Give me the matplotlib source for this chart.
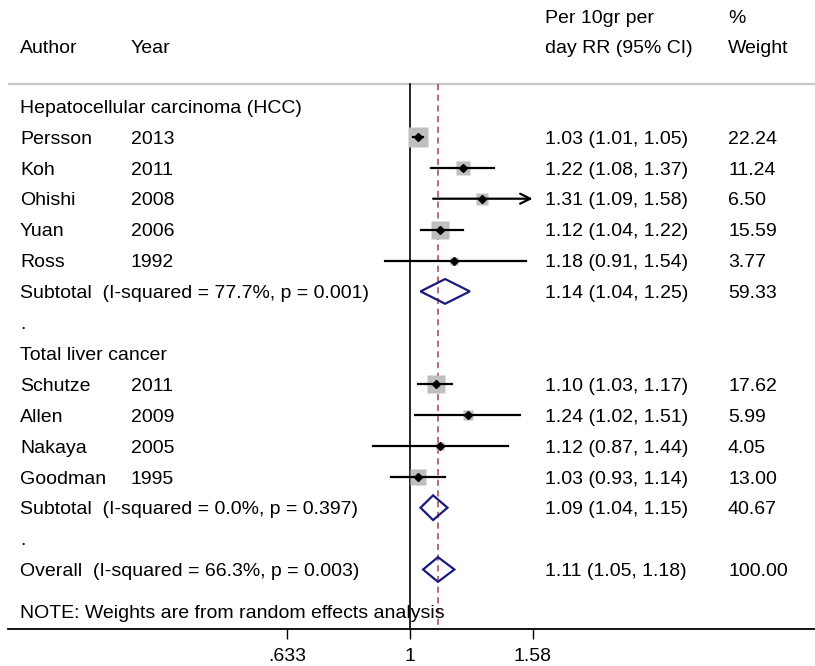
import numpy as np
import matplotlib
matplotlib.use("Agg")
import matplotlib.pyplot as plt
from matplotlib import transforms

plt.rcParams.update({"font.family": ["Liberation Sans", "DejaVu Sans"], "font.size": 14})

# ---- data ----
hcc_authors = ["Persson", "Koh", "Ohishi", "Yuan", "Ross"]
hcc_years = [2013, 2011, 2008, 2006, 1992]
hcc_rr = [1.03, 1.22, 1.31, 1.12, 1.18]
hcc_lo = [1.01, 1.08, 1.09, 1.04, 0.91]
hcc_hi = [1.05, 1.37, 1.58, 1.22, 1.54]
hcc_w = [22.24, 11.24, 6.50, 15.59, 3.77]
hcc_sub = (1.14, 1.04, 1.25, 59.33)
hcc_het = "Subtotal  (I-squared = 77.7%, p = 0.001)"

liv_authors = ["Schutze", "Allen", "Nakaya", "Goodman"]
liv_years = [2011, 2009, 2005, 1995]
liv_rr = [1.10, 1.24, 1.12, 1.03]
liv_lo = [1.03, 1.02, 0.87, 0.93]
liv_hi = [1.17, 1.51, 1.44, 1.14]
liv_w = [17.62, 5.99, 4.05, 13.00]
liv_sub = (1.09, 1.04, 1.15, 40.67)
liv_het = "Subtotal  (I-squared = 0.0%, p = 0.397)"

overall = (1.11, 1.05, 1.18, 100.00)
overall_het = "Overall  (I-squared = 66.3%, p = 0.003)"

xticks = [0.633, 1, 1.58]
xticklabels = [".633", "1", "1.58"]

# ---- figure ----
W, H = 815, 666
fig = plt.figure(figsize=(W / 100, H / 100), dpi=100)
ax = fig.add_axes([8 / W, (H - 629) / H, (W - 8) / W, 629 / H])
ax.set_xscale("log")
k = 268.1
ax.set_xlim(np.exp((8 - 410) / k), np.exp((W - 410) / k))
row_h, row0 = 30.9, 106
ax.set_ylim((629 - row0) / row_h, (0 - row0) / row_h)
for s in ["top", "left", "right"]:
    ax.spines[s].set_visible(False)
ax.spines["bottom"].set_linewidth(1.3)
ax.set_yticks([])
ax.set_xticks(xticks)
ax.set_xticklabels(xticklabels)
ax.xaxis.set_minor_locator(matplotlib.ticker.NullLocator())
ax.tick_params(axis="x", direction="out", length=7, width=1, pad=7, labelsize=14)

tx = transforms.blended_transform_factory(fig.transFigure, ax.transData)
XA, XY, XRR, XW = 20 / W, 131 / W, 545 / W, 728 / W
DY = 2.2 / row_h  # small downward nudge so text sits on the row centre


def label(x, row, s):
    ax.text(x, row + DY, s, transform=tx, va="center")


top_row = (84 - row0) / row_h
bot_row = (629 - row0) / row_h
ax.plot([1, 1], [top_row, bot_row], color="black", lw=1.2, zorder=2)
ax.plot([overall[0]] * 2, [top_row, bot_row], color="#a8434f", lw=1.1,
        ls=(0, (4, 3)), zorder=2)
ax.axhline(top_row, color="#c8c8c8", lw=1.6, zorder=1)

# headers
hrow1 = (16 - row0) / row_h
hrow2 = (46 - row0) / row_h
label(XA, hrow2, "Author")
label(XY, hrow2, "Year")
label(XRR, hrow1, "Per 10gr per")
label(XRR, hrow2, "day RR (95% CI)")
label(XW, hrow1, "%")
label(XW, hrow2, "Weight")

xmin_clip, xmax_clip = xticks[0], xticks[-1]


def study(row, author, year, rr, lo, hi, w):
    ms = 3.15 * np.sqrt(w)
    ax.plot(rr, row, marker="s", ms=ms, color="#bfbfbf", mec="none", zorder=3)
    lo_c, hi_c = max(lo, xmin_clip), min(hi, xmax_clip)
    if hi >= xmax_clip:
        ax.annotate("", xy=(hi_c, row), xytext=(lo_c, row),
                    arrowprops=dict(arrowstyle="->", lw=1.6, color="black",
                                    mutation_scale=18, shrinkA=0, shrinkB=0),
                    zorder=4)
    else:
        ax.plot([lo_c, hi_c], [row, row], color="black", lw=1.6, zorder=4)
    ax.plot(rr, row, marker="D", ms=4, color="black", zorder=5)
    label(XA, row, author)
    label(XY, row, str(year))
    label(XRR, row, f"{rr:.2f} ({lo:.2f}, {hi:.2f})")
    label(XW, row, f"{w:.2f}")


def pooled(row, text, est):
    rr, lo, hi, w = est
    hh = 0.4
    ax.fill([lo, rr, hi, rr, lo], [row, row - hh, row, row + hh, row],
            facecolor="none", edgecolor="#1a1a7e", lw=1.6, zorder=5)
    label(XA, row, text)
    label(XRR, row, f"{rr:.2f} ({lo:.2f}, {hi:.2f})")
    label(XW, row, f"{w:.2f}")


row = 0
label(XA, row, "Hepatocellular carcinoma (HCC)")
for i in range(len(hcc_authors)):
    row += 1
    study(row, hcc_authors[i], hcc_years[i], hcc_rr[i], hcc_lo[i], hcc_hi[i], hcc_w[i])
row += 1
pooled(row, hcc_het, hcc_sub)
row += 1
label(XA, row, ".")
row += 1
label(XA, row, "Total liver cancer")
for i in range(len(liv_authors)):
    row += 1
    study(row, liv_authors[i], liv_years[i], liv_rr[i], liv_lo[i], liv_hi[i], liv_w[i])
row += 1
pooled(row, liv_het, liv_sub)
row += 1
label(XA, row, ".")
row += 1
pooled(row, overall_het, overall)

label(XA, (611 - row0) / row_h, "NOTE: Weights are from random effects analysis")

fig.savefig("out.png", dpi=100)
